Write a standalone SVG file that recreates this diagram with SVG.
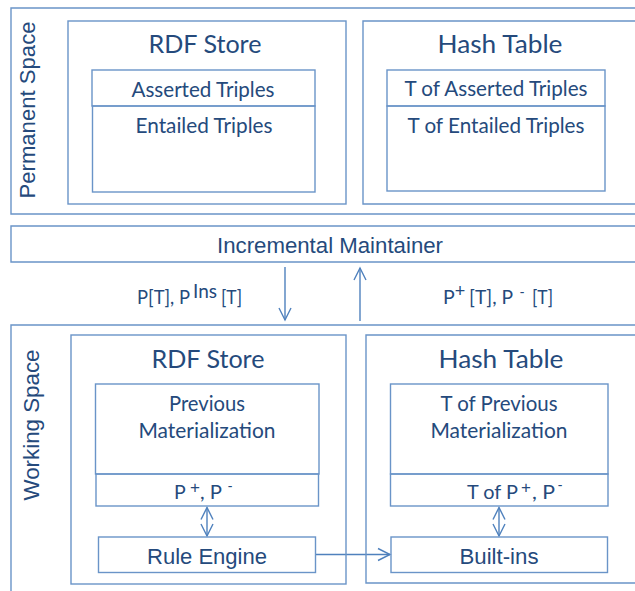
<svg xmlns="http://www.w3.org/2000/svg" width="635" height="591" viewBox="0 0 635 591">
<style>
.b{fill:none;stroke:#6a94c8;stroke-width:1.4}
.c{fill:none;stroke:#4f81bd;stroke-width:1.4}
text{fill:#254a7c;text-anchor:middle}
.l{font-family:"Lato","Open Sans",sans-serif}
.a{font-family:"Liberation Sans",Arial,sans-serif}
.h{font-size:25.500px}
.m{font-size:20.500px}
.s{font-size:19.500px;text-anchor:start}
.sup{font-size:14px}
</style>
<defs>
<marker id="o" markerUnits="userSpaceOnUse" markerWidth="16" markerHeight="16" refX="13" refY="7" orient="auto-start-reverse" viewBox="0 0 16 14"><path d="M1 1L13 7L1 13" fill="none" stroke="#4f81bd" stroke-width="1.4"/></marker>
</defs>
<rect width="635" height="591" fill="#fff"/>
<g id="permanent-space">
<path class="b" d="M635 8H11V214H635"/>
<text class="a" font-size="22.200" transform="translate(34.500 110) rotate(-90)" textLength="177" lengthAdjust="spacingAndGlyphs">Permanent Space</text>
</g>
<g id="rdf-store-permanent">
<rect class="b" x="68" y="21" width="278" height="183"/>
<text class="l h" x="205" y="53" textLength="113" lengthAdjust="spacingAndGlyphs">RDF Store</text>
</g>
<g id="asserted-triples">
<rect class="b" x="92" y="70" width="223" height="36"/>
<text class="l m" x="203" y="97" textLength="143" lengthAdjust="spacingAndGlyphs">Asserted Triples</text>
</g>
<g id="entailed-triples">
<rect class="b" x="92.500" y="106" width="222.500" height="86"/>
<text class="l m" x="204" y="133" textLength="137" lengthAdjust="spacingAndGlyphs">Entailed Triples</text>
</g>
<g id="hash-table-permanent">
<path class="b" d="M635 21H363V204H635"/>
<text class="l h" x="500" y="53" textLength="125" lengthAdjust="spacingAndGlyphs">Hash Table</text>
</g>
<g id="t-asserted">
<rect class="b" x="387" y="70" width="218" height="36"/>
<text class="l m" x="496" y="96" textLength="183" lengthAdjust="spacingAndGlyphs">T of Asserted Triples</text>
</g>
<g id="t-entailed">
<rect class="b" x="387" y="106" width="218" height="85"/>
<text class="l m" x="496" y="133" textLength="177" lengthAdjust="spacingAndGlyphs">T of Entailed Triples</text>
</g>
<g id="incremental-maintainer">
<path class="b" d="M635 226H11V262H635"/>
<text class="a" font-size="22.200" x="330" y="253" textLength="226" lengthAdjust="spacingAndGlyphs">Incremental Maintainer</text>
</g>
<g id="connectors">
<path class="c" d="M285 267V320" marker-end="url(#o)"/>
<path class="c" d="M360 321V268" marker-end="url(#o)"/>
<path class="c" d="M207 507.500V536" marker-start="url(#o)" marker-end="url(#o)"/>
<path class="c" d="M499 507.500V536" marker-start="url(#o)" marker-end="url(#o)"/>
<path class="c" d="M315 554.500H390" marker-end="url(#o)"/>
</g>
<g id="label-down">
<text class="l s" x="137" y="304" textLength="53" lengthAdjust="spacingAndGlyphs">P[T], P</text>
<text class="l s" x="193" y="298" textLength="24" lengthAdjust="spacingAndGlyphs">Ins</text>
<text class="l s" x="221" y="304" textLength="21" lengthAdjust="spacingAndGlyphs">[T]</text>
</g>
<g id="label-up">
<text class="l s" x="443" y="304">P</text>
<text class="a" x="460" y="297" font-size="18">+</text>
<text class="l s" x="469" y="304" textLength="44" lengthAdjust="spacingAndGlyphs">[T], P</text>
<text class="a" x="522" y="297" font-size="14">-</text>
<text class="l s" x="532" y="304" textLength="21" lengthAdjust="spacingAndGlyphs">[T]</text>
</g>
<g id="working-space">
<path class="b" d="M635 325H11V591"/>
<text class="a" font-size="22.200" transform="translate(39 425) rotate(-90)" textLength="151" lengthAdjust="spacingAndGlyphs">Working Space</text>
</g>
<g id="rdf-store-working">
<rect class="b" x="71" y="335" width="275" height="249"/>
<text class="l h" x="208" y="368" textLength="113" lengthAdjust="spacingAndGlyphs">RDF Store</text>
</g>
<g id="previous-materialization">
<rect class="b" x="95.500" y="384" width="223.500" height="90"/>
<text class="l m" x="207" y="411" textLength="76" lengthAdjust="spacingAndGlyphs">Previous</text>
<text class="l m" x="207" y="438" textLength="137" lengthAdjust="spacingAndGlyphs">Materialization</text>
</g>
<g id="p-plus-minus">
<rect class="b" x="96" y="474" width="222.500" height="32"/>
<text class="l s" x="174" y="499">P</text>
<text class="a" x="195" y="493" font-size="17">+</text>
<text class="l s" x="200" y="499" textLength="22" lengthAdjust="spacingAndGlyphs">, P</text>
<text class="a sup" x="230" y="491">-</text>
</g>
<g id="rule-engine">
<rect class="b" x="98.500" y="537" width="217" height="35.500"/>
<text class="a" font-size="22" x="207" y="564" textLength="120" lengthAdjust="spacingAndGlyphs">Rule Engine</text>
</g>
<g id="hash-table-working">
<path class="b" d="M635 335H366V583H635"/>
<text class="l h" x="501" y="368" textLength="125" lengthAdjust="spacingAndGlyphs">Hash Table</text>
</g>
<g id="t-previous">
<rect class="b" x="390.500" y="384" width="217.500" height="90"/>
<text class="l m" x="499" y="411" textLength="117" lengthAdjust="spacingAndGlyphs">T of Previous</text>
<text class="l m" x="499" y="438" textLength="137" lengthAdjust="spacingAndGlyphs">Materialization</text>
</g>
<g id="t-p-plus-minus">
<rect class="b" x="390.500" y="474" width="217.500" height="32"/>
<text class="l s" x="467" y="499" textLength="51" lengthAdjust="spacingAndGlyphs">T of P</text>
<text class="a" x="526" y="493" font-size="17">+</text>
<text class="l s" x="532" y="499" textLength="23" lengthAdjust="spacingAndGlyphs">, P</text>
<text class="a sup" x="560" y="490">-</text>
</g>
<g id="built-ins">
<rect class="b" x="391" y="537" width="216.500" height="35.500"/>
<text class="a" font-size="22" x="499" y="564" textLength="79" lengthAdjust="spacingAndGlyphs">Built-ins</text>
</g>
</svg>
